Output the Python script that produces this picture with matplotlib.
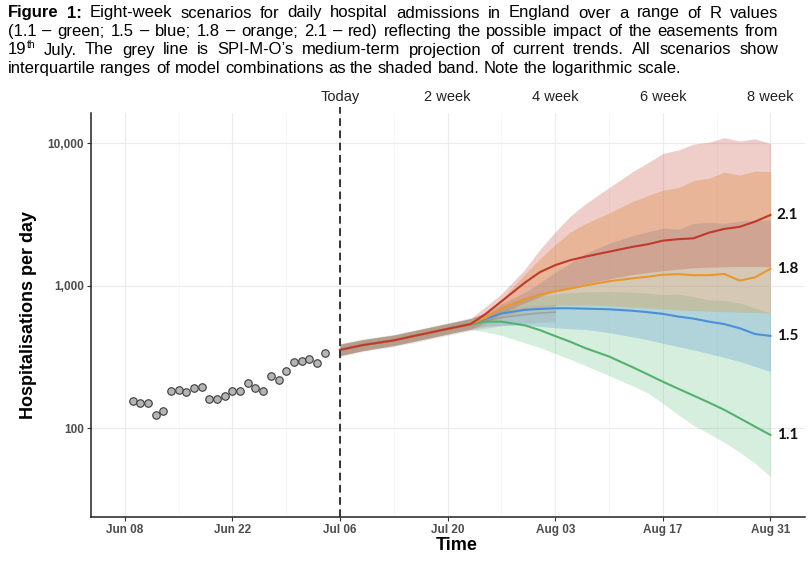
import numpy as np
import matplotlib
matplotlib.use("Agg")
import matplotlib.pyplot as plt
import matplotlib.dates as mdates
from matplotlib import font_manager
from matplotlib.ticker import FixedLocator, NullLocator
from matplotlib.transforms import blended_transform_factory

W, H = 811, 561

# observed daily admissions, one point per day from 9 June
obs_start = np.datetime64("2021-06-09")
observed = [156, 150, 152, 124, 132, 184, 187, 181, 192, 194, 162, 160, 170,
            184, 182, 207, 191, 184, 235, 220, 253, 295, 298, 308, 290, 341]

today = np.datetime64("2021-07-06")

# shared trajectory before the scenarios split (days after today)
early_days = [0, 3, 7, 10, 14, 17]
early_mid = [356, 385, 415, 450, 500, 540]
early_lo = [325, 352, 382, 413, 460, 497]
early_hi = [390, 420, 452, 490, 545, 590]

split_days = [19, 21, 24, 26, 28, 30, 32, 35, 38, 40, 42, 44, 46, 48, 50, 52, 54, 56]

red_mid = [640, 780, 1050, 1250, 1400, 1520, 1610, 1740, 1880, 1960, 2080, 2130,
           2160, 2365, 2515, 2600, 2830, 3150]
red_lo = [560, 640, 760, 840, 920, 980, 1040, 1120, 1200, 1240, 1280, 1310,
          1340, 1355, 1365, 1370, 1370, 1365]
red_hi = [720, 880, 1300, 1800, 2400, 3100, 3800, 4900, 6300, 7300, 8500, 9000,
          9900, 10200, 11000, 10400, 10800, 10000]

orange_mid = [600, 700, 805, 870, 915, 960, 1010, 1080, 1130, 1160, 1200, 1210,
              1190, 1190, 1213, 1090, 1150, 1320]
orange_lo = [540, 600, 670, 700, 730, 735, 735, 725, 710, 700, 690, 680,
             670, 665, 660, 655, 650, 644]
orange_hi = [650, 800, 1200, 1550, 1950, 2400, 2750, 3250, 3900, 4300, 4700, 4900,
             5500, 5700, 6300, 6000, 6400, 6350]

blue_mid = [590, 640, 680, 690, 697, 697, 693, 686, 670, 655, 637, 610,
            590, 562, 540, 505, 460, 446]
blue_lo = [520, 530, 530, 520, 510, 500, 495, 470, 440, 420, 396, 375,
           355, 335, 315, 295, 272, 251]
blue_hi = [650, 750, 900, 1050, 1250, 1450, 1700, 1990, 2250, 2400, 2550, 2500,
           2750, 2800, 2750, 2850, 2900, 2900]

green_mid = [562, 562, 530, 490, 445, 405, 365, 320, 270, 240, 213, 190,
             170, 152, 135, 118, 103, 90]
green_lo = [475, 450, 400, 370, 335, 305, 275, 235, 200, 178, 150, 125,
            105, 92, 80, 68, 57, 46]
green_hi = [630, 700, 820, 850, 880, 900, 910, 915, 905, 890, 870, 880,
            840, 800, 790, 760, 700, 645]

# SPI-M-O medium-term projection (to 4 weeks)
grey_days = [0, 3, 7, 10, 14, 17, 19, 21, 24, 26, 28]
grey_mid = [356, 385, 415, 450, 500, 540, 570, 600, 630, 645, 655]
grey_lo = [320, 348, 375, 405, 450, 486, 505, 525, 545, 555, 560]
grey_hi = [395, 425, 458, 495, 550, 600, 640, 690, 720, 735, 745]

scenario_names = ["1.1", "1.5", "1.8", "2.1"]
week_days = [0, 14, 28, 42, 56]
week_labels = ["Today", "2 week", "4 week", "6 week", "8 week"]

caption = [
    "Figure 1: Eight-week scenarios for daily hospital admissions in England over a range of R values",
    "(1.1 \u2013 green; 1.5 \u2013 blue; 1.8 \u2013 orange; 2.1 \u2013 red) reflecting the possible impact of the easements from",
    "19^th July. The grey line is SPI-M-O\u2019s medium-term projection of current trends. All scenarios show",
    "interquartile ranges of model combinations as the shaded band. Note the logarithmic scale.",
]

fig = plt.figure(figsize=(W / 100, H / 100), dpi=100)
ax = fig.add_axes([91 / W, 1 - 517 / H, (805 - 91) / W, (517 - 113) / H])

t0 = mdates.date2num(today)
days_all = np.array(early_days + split_days, dtype=float)
x_all = t0 + days_all

scen = [
    (green_mid, green_lo, green_hi, "#52b26e", "#5cbf7a", 0.25),
    (blue_mid, blue_lo, blue_hi, "#4a90d9", "#5a9bd5", 0.30),
    (orange_mid, orange_lo, orange_hi, "#e8962e", "#e8952e", 0.30),
    (red_mid, red_lo, red_hi, "#c0392b", "#c0392b", 0.25),
]

for mid, lo, hi, lc, fc, a in scen:
    ax.fill_between(x_all, early_lo + lo, early_hi + hi, color=fc, alpha=a, lw=0)

gx = t0 + np.array(grey_days, dtype=float)
ax.fill_between(gx, grey_lo, grey_hi, color="#9a9a9a", alpha=0.25, lw=0)
ax.plot(gx, grey_mid, color="#999999", lw=1.2, alpha=0.8)

for mid, lo, hi, lc, fc, a in scen:
    ax.plot(x_all, early_mid + mid, color=lc, lw=1.5)

for (mid, lo, hi, lc, fc, a), name in zip(scen, scenario_names):
    ax.text(t0 + 56.8, mid[-1], name, fontsize=11, fontweight="bold",
            family="Lato", ha="left", va="center", color="#111111")

obs_x = mdates.date2num(obs_start) + np.arange(len(observed))
ax.plot(obs_x, observed, "o", ms=5.4, mfc="#b5b5b5", mec="#3a3a3a", mew=0.8)

ax.axvline(t0, ymin=0, ymax=1.015, color="black", ls=(0, (5, 3)), lw=1.1, clip_on=False)

ax.set_yscale("log")
ax.set_ylim(23.9, 16370)
ax.set_xlim(t0 - 32.4, t0 + 60.5)
ax.yaxis.set_major_locator(FixedLocator([100, 1000, 10000]))
ax.yaxis.set_minor_locator(NullLocator())
ax.set_yticklabels(["100", "1,000", "10,000"])
xt = [t0 + d for d in range(-28, 57, 14)]
ax.xaxis.set_major_locator(FixedLocator(xt))
ax.xaxis.set_minor_locator(FixedLocator([t0 + d for d in range(-35, 60, 14)]))
ax.xaxis.set_major_formatter(mdates.DateFormatter("%b %d"))

for s in ["top", "right"]:
    ax.spines[s].set_visible(False)
for s in ["left", "bottom"]:
    ax.spines[s].set_color("#222222")
    ax.spines[s].set_linewidth(1.1)
ax.tick_params(which="major", length=3, width=0.8, color="#333333",
               labelcolor="#4d4d4d", labelsize=8.5, pad=2)
ax.tick_params(which="minor", length=0)
for lab in ax.get_xticklabels() + ax.get_yticklabels():
    lab.set_fontweight("bold")
    lab.set_family("Liberation Sans")
ax.grid(which="major", color="#ebebeb", lw=0.8)
ax.grid(which="minor", axis="x", color="#f4f4f4", lw=0.5)
ax.set_axisbelow(True)

ax.set_ylabel("Hospitalisations per day", fontsize=13, fontweight="bold",
              family="Liberation Sans")
ax.yaxis.set_label_coords(-0.075, 0.5)
ax.set_xlabel("Time", fontsize=13, fontweight="bold", family="Liberation Sans")
ax.xaxis.set_label_coords((457 - 91) / 714, -0.05)

trans = blended_transform_factory(ax.transData, ax.transAxes)
for d, lab in zip(week_days, week_labels):
    ax.text(t0 + d, 1.04, lab, transform=trans, ha="center", va="center",
            fontsize=10.5, family="Liberation Sans", color="#222222")

# caption, justified like the original document
names = {f.name for f in font_manager.fontManager.ttflist}
cap_font = "Liberation Sans Narrow" if "Liberation Sans Narrow" in names else "Liberation Sans"
renderer = fig.canvas.get_renderer()


def text_width(s, **kw):
    t = fig.text(0, 0, s, **kw)
    w = t.get_window_extent(renderer=renderer).width
    t.remove()
    return w


def pieces_for(word, size, bold):
    base = dict(family=cap_font, fontsize=size, fontweight="bold" if bold else "normal")
    if "^" in word:
        b, sup = word.split("^")
        sup_kw = dict(base, fontsize=size * 0.62)
        return [(b, base, 0.0), (sup, sup_kw, size * 0.42 * 100 / 72)]
    return [(word, base, 0.0)]


size = 10.0
w4 = text_width(caption[3], family=cap_font, fontsize=size)
size = size * 672 / w4

x0, x1 = 8, 778
baselines = [17.5, 36, 54.5, 73]
for i, (line, yb) in enumerate(zip(caption, baselines)):
    words = line.split(" ")
    pw = []
    for j, w in enumerate(words):
        ps = pieces_for(w, size, i == 0 and j < 2)
        widths = [text_width(s, **kw) for s, kw, dy in ps]
        pw.append((ps, widths))
    total = sum(sum(ws) for _, ws in pw)
    if i < 3:
        gap = (x1 - x0 - total) / (len(words) - 1)
    else:
        gap = text_width("a a", family=cap_font, fontsize=size) - 2 * text_width("a", family=cap_font, fontsize=size)
    x = x0
    for ps, ws in pw:
        for (s, kw, dy), w in zip(ps, ws):
            fig.text(x / W, 1 - (yb - dy) / H, s, va="baseline", ha="left", color="black", **kw)
            x += w
        x += gap

fig.savefig("out.png", dpi=100)
